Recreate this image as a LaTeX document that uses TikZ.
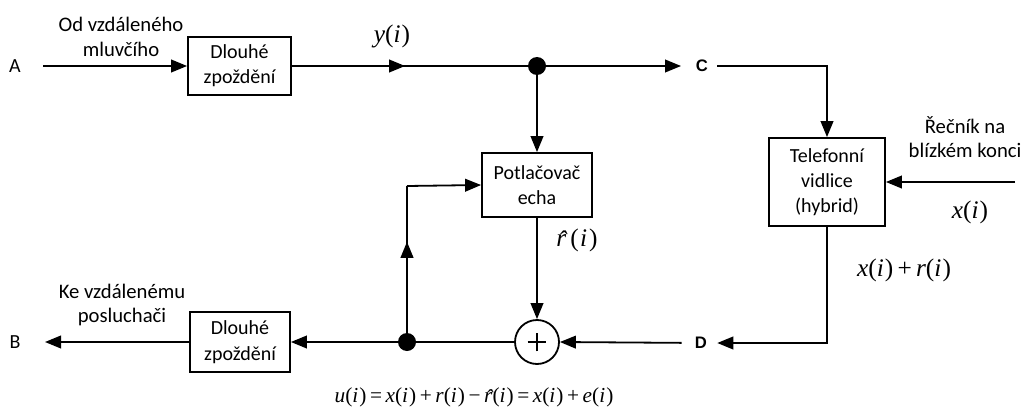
\documentclass[tikz,border=0pt]{standalone}
\usepackage{fontspec}
\setmainfont{Carlito}
\newfontfamily\tm{Liberation Serif}
\newfontfamily\ar{Liberation Sans}
\usetikzlibrary{arrows.meta,decorations.markings}
\newcommand\fnx[1]{\textit{#1}(\textit{i}\kern0.8pt)}
\newcommand\rh{\ooalign{\textit{r}\cr\hidewidth\kern0.12em\raisebox{-0.1em}{\textit{ˆ}}\hidewidth\cr}}
\newcommand\mth{\tm\fontsize{19}{22}\selectfont}
\begin{document}
\begin{tikzpicture}[x=0.75pt,y=-0.75pt,
  lw/.style={line width=1.35pt},
  arr/.style={lw,-{Triangle[length=12pt,width=9.5pt]}},
  midarr/.style={lw,postaction={decorate},decoration={markings,mark=at position #1 with {\arrow{Triangle[length=12pt,width=9.5pt]}}}},
  blk/.style={draw,lw,inner sep=0pt,align=center,font=\fontsize{15}{19}\selectfont},
  dot/.style={circle,fill=black,inner sep=0pt,minimum size=13.5pt},
  lbl/.style={align=center,font=\fontsize{15.5}{18.5}\selectfont},
  lett/.style={font=\fontsize{15}{17}\selectfont,inner sep=0pt},
  bl/.style={font=\ar\bfseries\fontsize{12.5}{14}\selectfont,inner sep=0pt}]
\useasboundingbox (0,0) rectangle (1027,410);

% nodes
\node[lett] (A) at (15,66) {A};
\node[lett] (B) at (15,342) {B};
\coordinate (a0) at (43,66);
\coordinate (b0) at (45,342);
\node[blk,minimum width=77.25pt,minimum height=43.5pt] (d1) at (239.5,66) {Dlouhé\\zpoždění};
\node[blk,minimum width=75pt,minimum height=45pt] (d2) at (240,342) {Dlouhé\\zpoždění};
\node[blk,minimum width=82.5pt,minimum height=48pt] (pot) at (537,185) {Potlačovač\\echa};
\node[blk,minimum width=87pt,minimum height=66pt] (hyb) at (827,182) {Telefonní\\vidlice\\(hybrid)};
\node[dot] (j1) at (537,66) {};
\node[dot] (j2) at (407,342) {};
\node[circle,draw,lw,minimum size=33pt,inner sep=0pt,
  path picture={\draw[line width=1.6pt] ([xshift=-7pt]path picture bounding box.center) -- ([xshift=7pt]path picture bounding box.center);
                \draw[line width=1.6pt] ([yshift=-7pt]path picture bounding box.center) -- ([yshift=7pt]path picture bounding box.center);}] (sum) at (537,342) {};
\node[bl] (C) at (702,66) {C};
\node[bl] (D) at (701,343) {D};
\coordinate (r0) at (1015,182);
\coordinate (fb) at (407,186);

% labels
\node[lbl] (t1) at (121,37) {Od vzdáleného\\mluvčího};
\node[lbl] (t2) at (122,305) {Ke vzdálenému\\posluchači};
\node[lbl] (t3) at (965,137) {Řečník na\\blízkém konci};
\node[font=\mth] (ly) at (392,36) {\fnx{y}};
\node[font=\mth] (lx) at (970,212) {\fnx{x}};
\node[font=\mth] (lxr) at (904,270) {\fnx{x}\,+\,\fnx{r}};
\node[font=\mth] (lr) at (577,240) {\rh\kern3pt(\kern1pt\textit{i}\kern1.5pt)};
\node[font=\tm\fontsize{16}{19}\selectfont] (eq) at (474,397) {\fnx{u}\,=\,\fnx{x}\,+\,\fnx{r}\,−\,\rh(\textit{i}\kern0.8pt)\,=\,\fnx{x}\,+\,\fnx{e}};

% connectors
\draw[arr] (a0) -- (d1.west);
\draw[midarr=0.48] (d1.east) -- (j1);
\draw[arr,shorten >=11pt] (j1) -- (C);
\draw[arr,shorten <=6.75pt] (C) -| (hyb.north);
\draw[arr] (r0) -- (hyb.east);
\draw[arr,shorten >=7.5pt] (hyb.south) |- (D);
\draw[arr,shorten <=9.75pt] (D) -- (sum.east);
\draw[arr] (j1) -- (pot.north);
\draw[arr] (pot.south) -- (sum.north);
\draw[lw] (sum.west) -- (j2);
\draw[arr] (j2) -- (d2.east);
\draw[arr] (d2.west) -- (b0);
\draw[midarr=0.62] (j2) -- (fb);
\draw[arr] (fb) -- (pot.west);
\end{tikzpicture}
\end{document}
